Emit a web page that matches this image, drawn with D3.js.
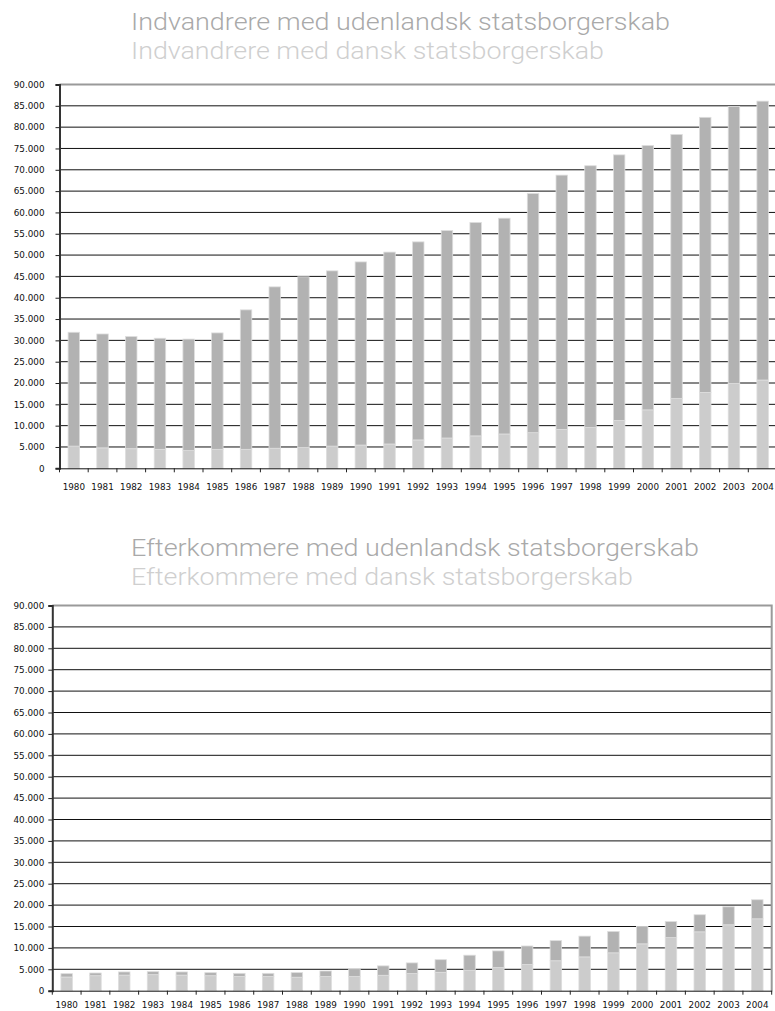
<!DOCTYPE html>
<html>
<head>
<meta charset="utf-8">
<script src="https://cdn.jsdelivr.net/npm/d3@7"></script>
<style>
  html, body { margin: 0; padding: 0; background: #fff; }
  svg { display: block; }
</style>
</head>
<body>
<svg id="chart" width="775" height="1011"></svg>
<script>
// ---------------- DATA ----------------
const years = ["1980","1981","1982","1983","1984","1985","1986","1987","1988","1989","1990","1991","1992",
               "1993","1994","1995","1996","1997","1998","1999","2000","2001","2002","2003","2004"];

const yTicks = [0,5000,10000,15000,20000,25000,30000,35000,40000,45000,50000,55000,60000,65000,70000,75000,80000,85000,90000];

// Indvandrere (immigrants)
const indDansk   = [5200,4800,4600,4450,4150,4450,4450,4700,4850,5200,5450,5700,6650,7100,7600,8050,8350,9100,9550,11200,13700,16400,17800,19900,20700];
const indUdenl   = [26700,26700,26300,26050,26150,27300,32700,37850,40050,41100,42950,45000,46450,48650,50050,50600,56100,59650,61400,62300,62000,61900,64500,64950,65400];

// Efterkommere (descendants)
const efterDansk = [3200,3500,3650,3750,3650,3500,3300,3300,3150,3300,3350,3600,4000,4300,4700,5400,6100,7000,7900,8850,10950,12400,13750,15400,16800];
const efterUdenl = [780,640,730,700,730,720,760,760,1070,1300,1800,2200,2500,2950,3600,3900,4350,4700,4850,5000,4050,3750,4000,4200,4450];

const indLegend   = ["Indvandrere med udenlandsk statsborgerskab", "Indvandrere med dansk statsborgerskab"];
const efterLegend = ["Efterkommere med udenlandsk statsborgerskab", "Efterkommere med dansk statsborgerskab"];

// ---------------- STYLE ----------------
const colUdenl = "#b2b2b2";
const colDansk = "#cccccc";
const legendColors = ["#a9a9a9", "#cfcfcf"];

const locale = d3.formatLocale({decimal: ",", thousands: ".", grouping: [3], currency: ["", ""]});
const fmt = locale.format(",d");

const svg = d3.select("#chart");

function drawChart(cfg) {
  const g = svg.append("g");

  // legend
  cfg.legend.forEach((t, i) => {
    g.append("text")
      .attr("x", 131)
      .attr("y", cfg.legendY[i])
      .attr("font-family", "Roboto, sans-serif")
      .attr("font-weight", 300)
      .attr("font-size", 24)
      .attr("fill", legendColors[i])
      .attr("textLength", cfg.legendW[i])
      .attr("lengthAdjust", "spacingAndGlyphs")
      .text(t);
  });

  const x = d3.scaleBand().domain(years).range([cfg.x0, cfg.x1]).paddingInner(0.6).paddingOuter(0.3);
  const y = d3.scaleLinear().domain([0, 90000]).range([cfg.yB, cfg.yT]);

  // gridlines
  g.append("g").selectAll("line")
    .data(yTicks.filter(d => d > 0 && d < 90000))
    .join("line")
      .attr("x1", cfg.x0).attr("x2", cfg.x1)
      .attr("y1", d => y(d)).attr("y2", d => y(d))
      .attr("stroke", "#111").attr("stroke-width", 1);

  // plot border (top + right)
  g.append("path")
    .attr("d", `M${cfg.x0},${y(90000)}H${cfg.x1}V${cfg.yB}`)
    .attr("fill", "none").attr("stroke", "#9a9a9a").attr("stroke-width", 2);

  // stacked bars
  const stackData = years.map((yr, i) => ({year: yr, dansk: cfg.dansk[i], udenl: cfg.udenl[i]}));
  const series = d3.stack().keys(["dansk", "udenl"])(stackData);
  const colors = {dansk: colDansk, udenl: colUdenl};

  g.append("g").selectAll("g")
    .data(series)
    .join("g")
      .attr("fill", d => colors[d.key])
    .selectAll("rect")
    .data(d => d)
    .join("rect")
      .attr("x", d => x(d.data.year))
      .attr("width", x.bandwidth())
      .attr("y", d => y(d[1]))
      .attr("height", d => y(d[0]) - y(d[1]))
      .attr("stroke", "#dedede")
      .attr("stroke-width", 0.8);

  // y axis
  const yAxis = d3.axisLeft(y).tickValues(yTicks).tickFormat(d => fmt(d)).tickSize(4).tickPadding(cfg.yPad);
  const ya = g.append("g").attr("transform", `translate(${cfg.x0},0)`).call(yAxis);
  ya.select(".domain").attr("stroke", "#333").attr("stroke-width", 2);
  ya.selectAll(".tick line").attr("stroke", "#222");
  ya.selectAll("text").attr("font-family", "DejaVu Sans, Verdana, sans-serif").attr("font-size", 8.8).attr("fill", "#111");

  // x axis
  const xAxis = d3.axisBottom(x).tickSize(0).tickPadding(cfg.xPad);
  const xa = g.append("g").attr("transform", `translate(0,${cfg.yB})`).call(xAxis);
  xa.select(".domain").attr("stroke", "#111").attr("stroke-width", 1);
  xa.selectAll("text").attr("font-family", "DejaVu Sans, Verdana, sans-serif").attr("font-size", 8.8).attr("fill", "#111");
  // category boundary ticks
  const step = x.step();
  xa.append("g").selectAll("line")
    .data(years)
    .join("line")
      .attr("x1", (d) => x(d) - step * 0.3)
      .attr("x2", (d) => x(d) - step * 0.3)
      .attr("y1", 0).attr("y2", 4)
      .attr("stroke", "#222");
  xa.append("line")
    .attr("x1", cfg.x1).attr("x2", cfg.x1).attr("y1", 0).attr("y2", 4).attr("stroke", "#222");
}

drawChart({
  legend: indLegend, legendY: [30, 59], legendW: [539, 473],
  x0: 59.5, x1: 777, yT: 84.5, yB: 468.3, yPad: 11, xPad: 15,
  dansk: indDansk, udenl: indUdenl
});

drawChart({
  legend: efterLegend, legendY: [556, 585], legendW: [568, 502],
  x0: 52.3, x1: 771.7, yT: 605.5, yB: 990.7, yPad: 4, xPad: 11,
  dansk: efterDansk, udenl: efterUdenl
});
</script>
</body>
</html>
